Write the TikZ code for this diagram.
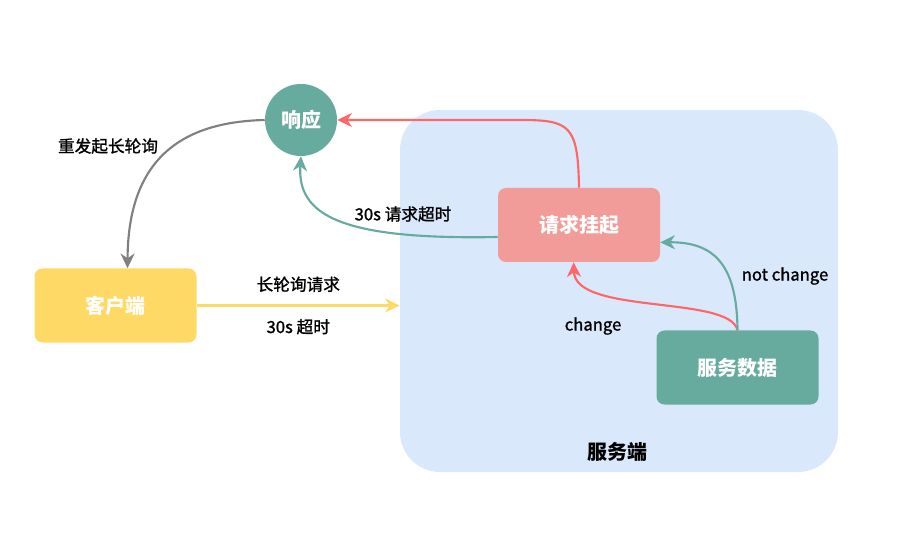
\documentclass[tikz,border=0pt]{standalone}
\usepackage{fontspec}
\setmainfont{Noto Sans CJK SC}
\newfontfamily\lblfont[FakeBold=1.2]{Noto Sans CJK SC}
\usepackage{tikz}
\usetikzlibrary{arrows.meta,positioning}
\definecolor{cBack}{HTML}{DAE8FC}
\definecolor{cTeal}{HTML}{67AB9F}
\definecolor{cPink}{HTML}{F19C99}
\definecolor{cSun}{HTML}{FFD966}
\definecolor{cRed}{HTML}{FF6666}
\definecolor{cGrey}{HTML}{808080}

\begin{document}
\begin{tikzpicture}[x=0.75pt,y=-0.75pt,
   b/.style={rounded corners=6pt,minimum width=121.5pt,minimum height=55.5pt,text=white,font=\bfseries\fontsize{15}{18}\selectfont},
   c/.style={circle,minimum size=54pt,inner sep=0pt,text=white,font=\bfseries\fontsize{15}{18}\selectfont},
   l/.style={font=\lblfont\fontsize{12.5}{15}\selectfont},
   a/.style={-{Stealth[length=11pt,width=10.5pt,inset=3.5pt]},line width=1.6pt}]
  \useasboundingbox (0,0) rectangle (922,556);
  % server area
  \node[fill=cBack,rounded corners=30pt,minimum width=328.5pt,minimum height=271.5pt] (srv) at (619,291) {};
  \node[font=\bfseries\fontsize{15}{18}\selectfont] (srvl) at (617,452) {服务端};
  % nodes
  \node[c,fill=cTeal] (resp) at (301,120) {响应};
  \node[b,fill=cPink] (hang) at (579,225) {请求挂起};
  \node[b,fill=cSun]  (cli)  at (115.5,305.5) {客户端};
  \node[b,fill=cTeal] (data) at (737.5,367.5) {服务数据};
  % connectors
  \draw[a,cSun] (cli.east) -- (cli.east -| srv.west)
     node[l,midway,above=6pt,text=black] (req) {长轮询请求}
     node[l,midway,below=6pt,text=black] (tout) {30s 超时};
  \draw[a,cRed] (hang.north) .. controls (578,125) and (570,120) .. (520,120) -- (resp.east);
  \draw[a,cTeal] ([yshift=-9pt]hang.west) .. controls (340,240) and (297,215) .. (resp.south);
  \draw[a,cGrey] (resp.west) .. controls (175,122) and (128,165) .. ([xshift=9pt]cli.north);
  \draw[a,cRed] (data.north) .. controls (730,295) and (575,315) .. ([xshift=-4pt]hang.south);
  \draw[a,cTeal] (data.north) .. controls (737,262) and (712,242) .. ([yshift=-13pt]hang.east);
  % labels
  \node[l] (lto)  at (403,214) {30s 请求超时};
  \node[l] (lre)  at (108,146) {重发起长轮询};
  \node[l] (lch)  at (593,326) {change};
  \node[l] (lnch) at (785,276) {not change};
\end{tikzpicture}
\end{document}
